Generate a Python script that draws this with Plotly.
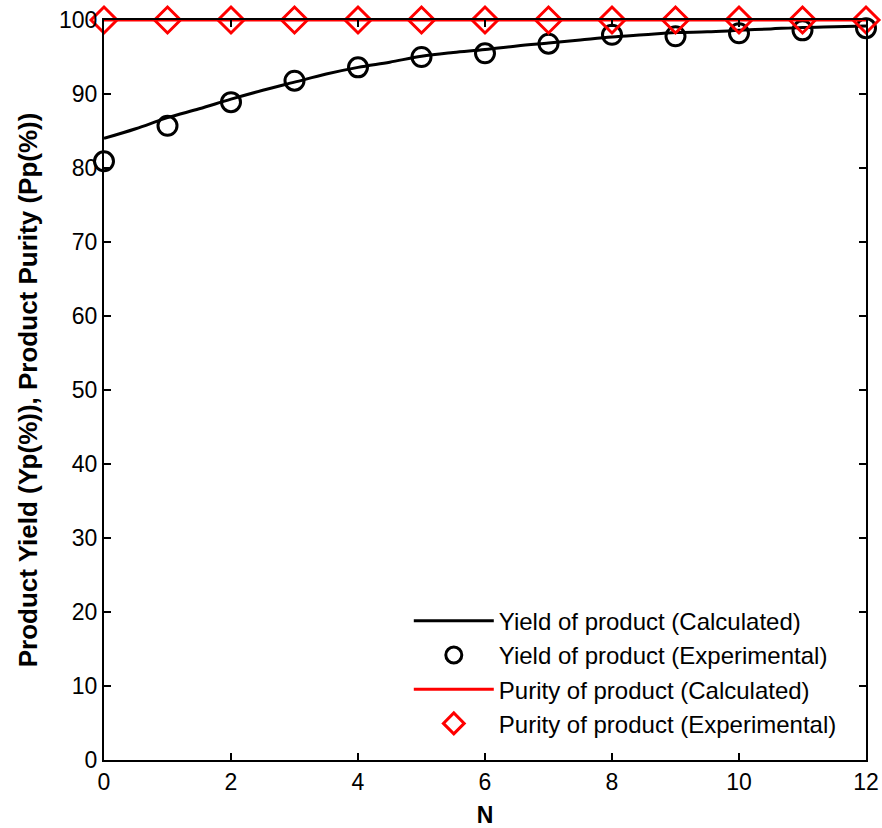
import plotly.graph_objects as go

# Data
n_exp = [0, 1, 2, 3, 4, 5, 6, 7, 8, 9, 10, 11, 12]
yield_exp = [80.9, 85.7, 88.9, 91.8, 93.6, 95.0, 95.5, 96.8, 98.0, 97.8, 98.2, 98.6, 98.9]
purity_exp = [100, 100, 100, 100, 100, 100, 100, 100, 100, 100, 100, 100, 100]

n_calc = [0, 0.5, 1, 1.5, 2, 2.5, 3, 3.5, 4, 4.5, 5, 5.5, 6, 6.5, 7, 7.5, 8, 8.5, 9, 9.5, 10, 10.5, 11, 11.5, 12]
yield_calc = [84.0, 85.3, 86.8, 88.0, 89.3, 90.5, 91.6, 92.7, 93.6, 94.3, 95.1, 95.6, 96.0, 96.5,
              96.9, 97.3, 97.7, 98.0, 98.3, 98.4, 98.6, 98.8, 99.0, 99.1, 99.2]
purity_calc = [100] * len(n_calc)

x_ticks = [0, 2, 4, 6, 8, 10, 12]
y_ticks = [0, 10, 20, 30, 40, 50, 60, 70, 80, 90, 100]

FONT = "Liberation Sans, Arial, sans-serif"

fig = go.Figure()
fig.add_trace(go.Scatter(x=n_calc, y=yield_calc, mode="lines", name="Yield of product (Calculated)",
                         line=dict(color="black", width=3), line_shape="spline", cliponaxis=False))
fig.add_trace(go.Scatter(x=n_exp, y=yield_exp, mode="markers", name="Yield of product (Experimental)",
                         marker=dict(symbol="circle-open", size=19, color="black", line=dict(width=3)),
                         cliponaxis=False))
fig.add_trace(go.Scatter(x=n_calc, y=purity_calc, mode="lines", name="Purity of product (Calculated)",
                         line=dict(color="red", width=3), cliponaxis=False))
fig.add_trace(go.Scatter(x=n_exp, y=purity_exp, mode="markers", name="Purity of product (Experimental)",
                         marker=dict(symbol="diamond-open", size=20, color="red", line=dict(width=3)),
                         cliponaxis=False))

fig.update_layout(
    width=882, height=828,
    margin=dict(l=104, r=16, t=20, b=68),
    paper_bgcolor="white", plot_bgcolor="white",
    font=dict(family=FONT, size=23, color="black"),
    showlegend=True,
    legend=dict(x=0.40, y=0.218, xanchor="left", yanchor="top",
                bgcolor="rgba(255,255,255,0)", borderwidth=0,
                font=dict(family=FONT, size=24, color="black"),
                itemwidth=80, tracegroupgap=0),
)
fig.update_xaxes(
    range=[0, 12], tickvals=x_ticks, ticks="inside", ticklen=7, tickwidth=1.5, tickcolor="black",
    tickfont=dict(family=FONT, size=23), automargin=False,
    showline=True, linecolor="black", linewidth=2, mirror="ticks", showgrid=False, zeroline=False,
    title=dict(text="<b>N</b>", font=dict(family=FONT, size=23), standoff=13),
)
fig.update_yaxes(
    range=[0, 100], tickvals=y_ticks, ticks="inside", ticklen=7, tickwidth=1.5, tickcolor="black",
    tickfont=dict(family=FONT, size=23), automargin=False,
    showline=True, linecolor="black", linewidth=2, mirror="ticks", showgrid=False, zeroline=False,
    title=dict(text="<b>Product Yield (Yp(%)), Product Purity (Pp(%))</b>", font=dict(family=FONT, size=26), standoff=14),
)

fig.write_html("out.html")
